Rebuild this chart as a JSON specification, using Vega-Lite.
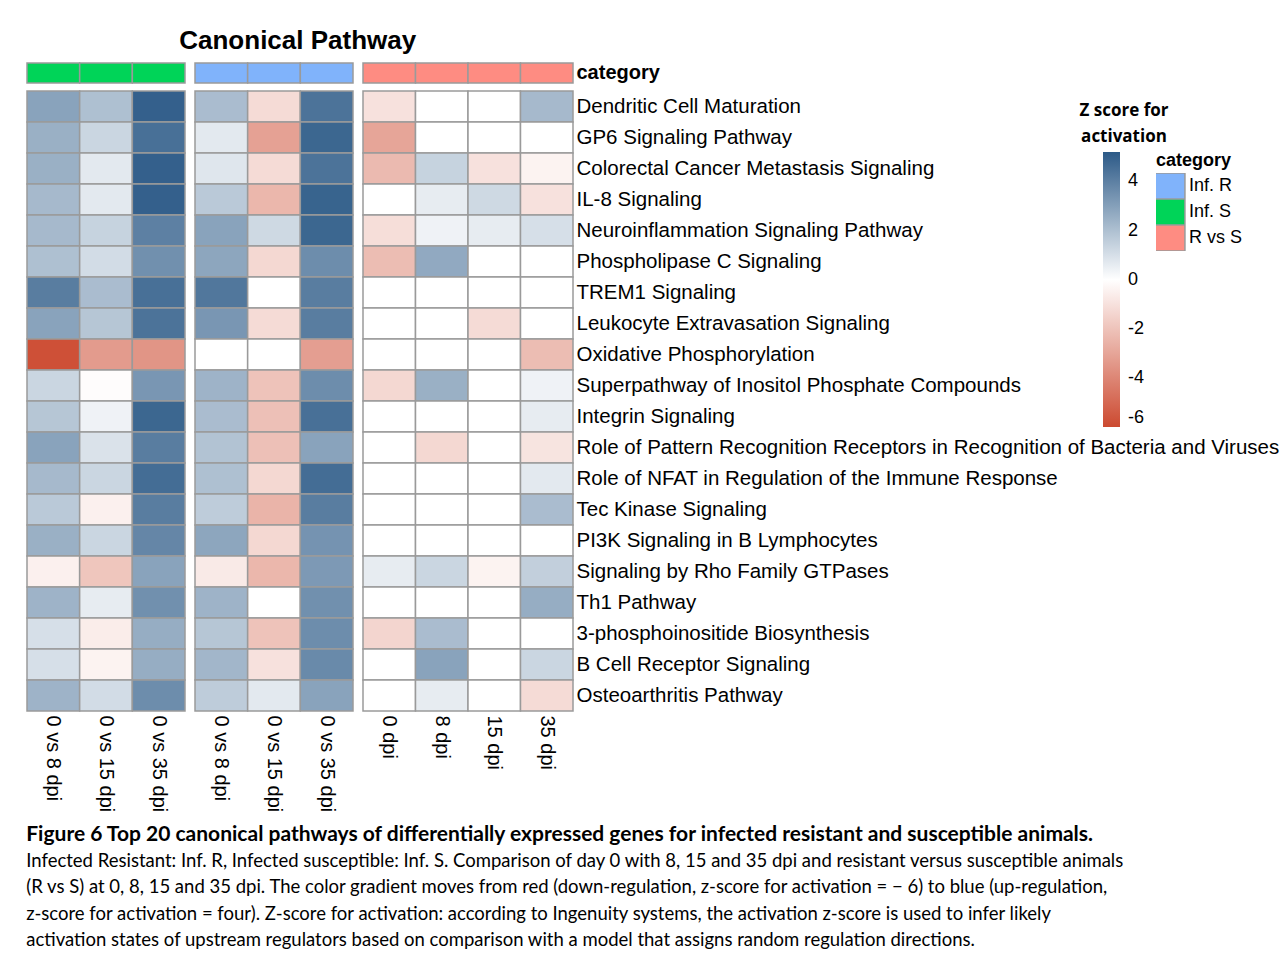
{
"$schema":"https://vega.github.io/schema/vega-lite/v6.json",
"background":"white",
"padding":{"left":26,"top":28,"right":2,"bottom":2},
"datasets":{
"cat":[
{"g":"S","c":"0 vs 8 dpi","k":"category","cat":"Inf. S"},{"g":"S","c":"0 vs 15 dpi","k":"category","cat":"Inf. S"},{"g":"S","c":"0 vs 35 dpi","k":"category","cat":"Inf. S"},
{"g":"R","c":"0 vs 8 dpi","k":"category","cat":"Inf. R"},{"g":"R","c":"0 vs 15 dpi","k":"category","cat":"Inf. R"},{"g":"R","c":"0 vs 35 dpi","k":"category","cat":"Inf. R"},
{"g":"V","c":"0 dpi","k":"category","cat":"R vs S"},{"g":"V","c":"8 dpi","k":"category","cat":"R vs S"},{"g":"V","c":"15 dpi","k":"category","cat":"R vs S"},{"g":"V","c":"35 dpi","k":"category","cat":"R vs S"}
],
"heat":[
{"p":"Dendritic Cell Maturation","g":"S","c":"0 vs 8 dpi","z":2.9},{"p":"Dendritic Cell Maturation","g":"S","c":"0 vs 15 dpi","z":2.0},{"p":"Dendritic Cell Maturation","g":"S","c":"0 vs 35 dpi","z":5.0},{"p":"Dendritic Cell Maturation","g":"R","c":"0 vs 8 dpi","z":2.1},{"p":"Dendritic Cell Maturation","g":"R","c":"0 vs 15 dpi","z":-1.2},{"p":"Dendritic Cell Maturation","g":"R","c":"0 vs 35 dpi","z":4.4},{"p":"Dendritic Cell Maturation","g":"V","c":"0 dpi","z":-1.0},{"p":"Dendritic Cell Maturation","g":"V","c":"8 dpi","z":0},{"p":"Dendritic Cell Maturation","g":"V","c":"15 dpi","z":0},{"p":"Dendritic Cell Maturation","g":"V","c":"35 dpi","z":2.2},
{"p":"GP6 Signaling Pathway","g":"S","c":"0 vs 8 dpi","z":2.5},{"p":"GP6 Signaling Pathway","g":"S","c":"0 vs 15 dpi","z":1.3},{"p":"GP6 Signaling Pathway","g":"S","c":"0 vs 35 dpi","z":4.5},{"p":"GP6 Signaling Pathway","g":"R","c":"0 vs 8 dpi","z":0.7},{"p":"GP6 Signaling Pathway","g":"R","c":"0 vs 15 dpi","z":-3.1},{"p":"GP6 Signaling Pathway","g":"R","c":"0 vs 35 dpi","z":4.8},{"p":"GP6 Signaling Pathway","g":"V","c":"0 dpi","z":-3.0},{"p":"GP6 Signaling Pathway","g":"V","c":"8 dpi","z":0},{"p":"GP6 Signaling Pathway","g":"V","c":"15 dpi","z":0},{"p":"GP6 Signaling Pathway","g":"V","c":"35 dpi","z":0},
{"p":"Colorectal Cancer Metastasis Signaling","g":"S","c":"0 vs 8 dpi","z":2.5},{"p":"Colorectal Cancer Metastasis Signaling","g":"S","c":"0 vs 15 dpi","z":0.7},{"p":"Colorectal Cancer Metastasis Signaling","g":"S","c":"0 vs 35 dpi","z":5.0},{"p":"Colorectal Cancer Metastasis Signaling","g":"R","c":"0 vs 8 dpi","z":0.8},{"p":"Colorectal Cancer Metastasis Signaling","g":"R","c":"0 vs 15 dpi","z":-1.2},{"p":"Colorectal Cancer Metastasis Signaling","g":"R","c":"0 vs 35 dpi","z":4.4},{"p":"Colorectal Cancer Metastasis Signaling","g":"V","c":"0 dpi","z":-2.3},{"p":"Colorectal Cancer Metastasis Signaling","g":"V","c":"8 dpi","z":1.4},{"p":"Colorectal Cancer Metastasis Signaling","g":"V","c":"15 dpi","z":-1.0},{"p":"Colorectal Cancer Metastasis Signaling","g":"V","c":"35 dpi","z":-0.4},
{"p":"IL-8 Signaling","g":"S","c":"0 vs 8 dpi","z":2.2},{"p":"IL-8 Signaling","g":"S","c":"0 vs 15 dpi","z":0.7},{"p":"IL-8 Signaling","g":"S","c":"0 vs 35 dpi","z":5.0},{"p":"IL-8 Signaling","g":"R","c":"0 vs 8 dpi","z":1.7},{"p":"IL-8 Signaling","g":"R","c":"0 vs 15 dpi","z":-2.4},{"p":"IL-8 Signaling","g":"R","c":"0 vs 35 dpi","z":4.9},{"p":"IL-8 Signaling","g":"V","c":"0 dpi","z":0},{"p":"IL-8 Signaling","g":"V","c":"8 dpi","z":0.6},{"p":"IL-8 Signaling","g":"V","c":"15 dpi","z":1.2},{"p":"IL-8 Signaling","g":"V","c":"35 dpi","z":-1.0},
{"p":"Neuroinflammation Signaling Pathway","g":"S","c":"0 vs 8 dpi","z":2.2},{"p":"Neuroinflammation Signaling Pathway","g":"S","c":"0 vs 15 dpi","z":1.4},{"p":"Neuroinflammation Signaling Pathway","g":"S","c":"0 vs 35 dpi","z":4.0},{"p":"Neuroinflammation Signaling Pathway","g":"R","c":"0 vs 8 dpi","z":2.9},{"p":"Neuroinflammation Signaling Pathway","g":"R","c":"0 vs 15 dpi","z":1.2},{"p":"Neuroinflammation Signaling Pathway","g":"R","c":"0 vs 35 dpi","z":4.8},{"p":"Neuroinflammation Signaling Pathway","g":"V","c":"0 dpi","z":-1.1},{"p":"Neuroinflammation Signaling Pathway","g":"V","c":"8 dpi","z":0.4},{"p":"Neuroinflammation Signaling Pathway","g":"V","c":"15 dpi","z":0.6},{"p":"Neuroinflammation Signaling Pathway","g":"V","c":"35 dpi","z":1.0},
{"p":"Phospholipase C Signaling","g":"S","c":"0 vs 8 dpi","z":2.0},{"p":"Phospholipase C Signaling","g":"S","c":"0 vs 15 dpi","z":1.1},{"p":"Phospholipase C Signaling","g":"S","c":"0 vs 35 dpi","z":3.5},{"p":"Phospholipase C Signaling","g":"R","c":"0 vs 8 dpi","z":2.8},{"p":"Phospholipase C Signaling","g":"R","c":"0 vs 15 dpi","z":-1.3},{"p":"Phospholipase C Signaling","g":"R","c":"0 vs 35 dpi","z":3.6},{"p":"Phospholipase C Signaling","g":"V","c":"0 dpi","z":-2.2},{"p":"Phospholipase C Signaling","g":"V","c":"8 dpi","z":2.7},{"p":"Phospholipase C Signaling","g":"V","c":"15 dpi","z":0},{"p":"Phospholipase C Signaling","g":"V","c":"35 dpi","z":0},
{"p":"TREM1 Signaling","g":"S","c":"0 vs 8 dpi","z":4.1},{"p":"TREM1 Signaling","g":"S","c":"0 vs 15 dpi","z":2.1},{"p":"TREM1 Signaling","g":"S","c":"0 vs 35 dpi","z":4.5},{"p":"TREM1 Signaling","g":"R","c":"0 vs 8 dpi","z":4.3},{"p":"TREM1 Signaling","g":"R","c":"0 vs 15 dpi","z":0},{"p":"TREM1 Signaling","g":"R","c":"0 vs 35 dpi","z":4.1},{"p":"TREM1 Signaling","g":"V","c":"0 dpi","z":0},{"p":"TREM1 Signaling","g":"V","c":"8 dpi","z":0},{"p":"TREM1 Signaling","g":"V","c":"15 dpi","z":0},{"p":"TREM1 Signaling","g":"V","c":"35 dpi","z":0},
{"p":"Leukocyte Extravasation Signaling","g":"S","c":"0 vs 8 dpi","z":2.9},{"p":"Leukocyte Extravasation Signaling","g":"S","c":"0 vs 15 dpi","z":1.8},{"p":"Leukocyte Extravasation Signaling","g":"S","c":"0 vs 35 dpi","z":4.4},{"p":"Leukocyte Extravasation Signaling","g":"R","c":"0 vs 8 dpi","z":3.3},{"p":"Leukocyte Extravasation Signaling","g":"R","c":"0 vs 15 dpi","z":-1.2},{"p":"Leukocyte Extravasation Signaling","g":"R","c":"0 vs 35 dpi","z":4.1},{"p":"Leukocyte Extravasation Signaling","g":"V","c":"0 dpi","z":0},{"p":"Leukocyte Extravasation Signaling","g":"V","c":"8 dpi","z":0},{"p":"Leukocyte Extravasation Signaling","g":"V","c":"15 dpi","z":-1.2},{"p":"Leukocyte Extravasation Signaling","g":"V","c":"35 dpi","z":0},
{"p":"Oxidative Phosphorylation","g":"S","c":"0 vs 8 dpi","z":-5.8},{"p":"Oxidative Phosphorylation","g":"S","c":"0 vs 15 dpi","z":-3.3},{"p":"Oxidative Phosphorylation","g":"S","c":"0 vs 35 dpi","z":-3.5},{"p":"Oxidative Phosphorylation","g":"R","c":"0 vs 8 dpi","z":0},{"p":"Oxidative Phosphorylation","g":"R","c":"0 vs 15 dpi","z":0},{"p":"Oxidative Phosphorylation","g":"R","c":"0 vs 35 dpi","z":-3.2},{"p":"Oxidative Phosphorylation","g":"V","c":"0 dpi","z":0},{"p":"Oxidative Phosphorylation","g":"V","c":"8 dpi","z":0},{"p":"Oxidative Phosphorylation","g":"V","c":"15 dpi","z":0},{"p":"Oxidative Phosphorylation","g":"V","c":"35 dpi","z":-2.2},
{"p":"Superpathway of Inositol Phosphate Compounds","g":"S","c":"0 vs 8 dpi","z":1.3},{"p":"Superpathway of Inositol Phosphate Compounds","g":"S","c":"0 vs 15 dpi","z":-0.1},{"p":"Superpathway of Inositol Phosphate Compounds","g":"S","c":"0 vs 35 dpi","z":3.3},{"p":"Superpathway of Inositol Phosphate Compounds","g":"R","c":"0 vs 8 dpi","z":2.4},{"p":"Superpathway of Inositol Phosphate Compounds","g":"R","c":"0 vs 15 dpi","z":-2.0},{"p":"Superpathway of Inositol Phosphate Compounds","g":"R","c":"0 vs 35 dpi","z":3.6},{"p":"Superpathway of Inositol Phosphate Compounds","g":"V","c":"0 dpi","z":-1.3},{"p":"Superpathway of Inositol Phosphate Compounds","g":"V","c":"8 dpi","z":2.5},{"p":"Superpathway of Inositol Phosphate Compounds","g":"V","c":"15 dpi","z":0},{"p":"Superpathway of Inositol Phosphate Compounds","g":"V","c":"35 dpi","z":0.4},
{"p":"Integrin Signaling","g":"S","c":"0 vs 8 dpi","z":1.8},{"p":"Integrin Signaling","g":"S","c":"0 vs 15 dpi","z":0.4},{"p":"Integrin Signaling","g":"S","c":"0 vs 35 dpi","z":4.8},{"p":"Integrin Signaling","g":"R","c":"0 vs 8 dpi","z":2.1},{"p":"Integrin Signaling","g":"R","c":"0 vs 15 dpi","z":-2.1},{"p":"Integrin Signaling","g":"R","c":"0 vs 35 dpi","z":4.5},{"p":"Integrin Signaling","g":"V","c":"0 dpi","z":0},{"p":"Integrin Signaling","g":"V","c":"8 dpi","z":0},{"p":"Integrin Signaling","g":"V","c":"15 dpi","z":0},{"p":"Integrin Signaling","g":"V","c":"35 dpi","z":0.6},
{"p":"Role of Pattern Recognition Receptors in Recognition of Bacteria and Viruses","g":"S","c":"0 vs 8 dpi","z":2.9},{"p":"Role of Pattern Recognition Receptors in Recognition of Bacteria and Viruses","g":"S","c":"0 vs 15 dpi","z":0.9},{"p":"Role of Pattern Recognition Receptors in Recognition of Bacteria and Viruses","g":"S","c":"0 vs 35 dpi","z":4.1},{"p":"Role of Pattern Recognition Receptors in Recognition of Bacteria and Viruses","g":"R","c":"0 vs 8 dpi","z":1.9},{"p":"Role of Pattern Recognition Receptors in Recognition of Bacteria and Viruses","g":"R","c":"0 vs 15 dpi","z":-2.1},{"p":"Role of Pattern Recognition Receptors in Recognition of Bacteria and Viruses","g":"R","c":"0 vs 35 dpi","z":2.9},{"p":"Role of Pattern Recognition Receptors in Recognition of Bacteria and Viruses","g":"V","c":"0 dpi","z":0},{"p":"Role of Pattern Recognition Receptors in Recognition of Bacteria and Viruses","g":"V","c":"8 dpi","z":-1.3},{"p":"Role of Pattern Recognition Receptors in Recognition of Bacteria and Viruses","g":"V","c":"15 dpi","z":0},{"p":"Role of Pattern Recognition Receptors in Recognition of Bacteria and Viruses","g":"V","c":"35 dpi","z":-0.9},
{"p":"Role of NFAT in Regulation of the Immune Response","g":"S","c":"0 vs 8 dpi","z":2.2},{"p":"Role of NFAT in Regulation of the Immune Response","g":"S","c":"0 vs 15 dpi","z":1.3},{"p":"Role of NFAT in Regulation of the Immune Response","g":"S","c":"0 vs 35 dpi","z":4.6},{"p":"Role of NFAT in Regulation of the Immune Response","g":"R","c":"0 vs 8 dpi","z":2.0},{"p":"Role of NFAT in Regulation of the Immune Response","g":"R","c":"0 vs 15 dpi","z":-1.3},{"p":"Role of NFAT in Regulation of the Immune Response","g":"R","c":"0 vs 35 dpi","z":4.6},{"p":"Role of NFAT in Regulation of the Immune Response","g":"V","c":"0 dpi","z":0},{"p":"Role of NFAT in Regulation of the Immune Response","g":"V","c":"8 dpi","z":0},{"p":"Role of NFAT in Regulation of the Immune Response","g":"V","c":"15 dpi","z":0},{"p":"Role of NFAT in Regulation of the Immune Response","g":"V","c":"35 dpi","z":0.7},
{"p":"Tec Kinase Signaling","g":"S","c":"0 vs 8 dpi","z":1.7},{"p":"Tec Kinase Signaling","g":"S","c":"0 vs 15 dpi","z":-0.5},{"p":"Tec Kinase Signaling","g":"S","c":"0 vs 35 dpi","z":4.1},{"p":"Tec Kinase Signaling","g":"R","c":"0 vs 8 dpi","z":1.6},{"p":"Tec Kinase Signaling","g":"R","c":"0 vs 15 dpi","z":-2.5},{"p":"Tec Kinase Signaling","g":"R","c":"0 vs 35 dpi","z":4.1},{"p":"Tec Kinase Signaling","g":"V","c":"0 dpi","z":0},{"p":"Tec Kinase Signaling","g":"V","c":"8 dpi","z":0},{"p":"Tec Kinase Signaling","g":"V","c":"15 dpi","z":0},{"p":"Tec Kinase Signaling","g":"V","c":"35 dpi","z":2.1},
{"p":"PI3K Signaling in B Lymphocytes","g":"S","c":"0 vs 8 dpi","z":2.5},{"p":"PI3K Signaling in B Lymphocytes","g":"S","c":"0 vs 15 dpi","z":1.3},{"p":"PI3K Signaling in B Lymphocytes","g":"S","c":"0 vs 35 dpi","z":3.8},{"p":"PI3K Signaling in B Lymphocytes","g":"R","c":"0 vs 8 dpi","z":2.8},{"p":"PI3K Signaling in B Lymphocytes","g":"R","c":"0 vs 15 dpi","z":-1.3},{"p":"PI3K Signaling in B Lymphocytes","g":"R","c":"0 vs 35 dpi","z":3.4},{"p":"PI3K Signaling in B Lymphocytes","g":"V","c":"0 dpi","z":0},{"p":"PI3K Signaling in B Lymphocytes","g":"V","c":"8 dpi","z":0},{"p":"PI3K Signaling in B Lymphocytes","g":"V","c":"15 dpi","z":0},{"p":"PI3K Signaling in B Lymphocytes","g":"V","c":"35 dpi","z":0},
{"p":"Signaling by Rho Family GTPases","g":"S","c":"0 vs 8 dpi","z":-0.5},{"p":"Signaling by Rho Family GTPases","g":"S","c":"0 vs 15 dpi","z":-1.9},{"p":"Signaling by Rho Family GTPases","g":"S","c":"0 vs 35 dpi","z":2.9},{"p":"Signaling by Rho Family GTPases","g":"R","c":"0 vs 8 dpi","z":-0.7},{"p":"Signaling by Rho Family GTPases","g":"R","c":"0 vs 15 dpi","z":-2.4},{"p":"Signaling by Rho Family GTPases","g":"R","c":"0 vs 35 dpi","z":3.2},{"p":"Signaling by Rho Family GTPases","g":"V","c":"0 dpi","z":0.6},{"p":"Signaling by Rho Family GTPases","g":"V","c":"8 dpi","z":1.3},{"p":"Signaling by Rho Family GTPases","g":"V","c":"15 dpi","z":-0.4},{"p":"Signaling by Rho Family GTPases","g":"V","c":"35 dpi","z":1.5},
{"p":"Th1 Pathway","g":"S","c":"0 vs 8 dpi","z":2.4},{"p":"Th1 Pathway","g":"S","c":"0 vs 15 dpi","z":0.6},{"p":"Th1 Pathway","g":"S","c":"0 vs 35 dpi","z":3.5},{"p":"Th1 Pathway","g":"R","c":"0 vs 8 dpi","z":2.4},{"p":"Th1 Pathway","g":"R","c":"0 vs 15 dpi","z":0},{"p":"Th1 Pathway","g":"R","c":"0 vs 35 dpi","z":3.5},{"p":"Th1 Pathway","g":"V","c":"0 dpi","z":0},{"p":"Th1 Pathway","g":"V","c":"8 dpi","z":0},{"p":"Th1 Pathway","g":"V","c":"15 dpi","z":0},{"p":"Th1 Pathway","g":"V","c":"35 dpi","z":2.6},
{"p":"3-phosphoinositide Biosynthesis","g":"S","c":"0 vs 8 dpi","z":1.0},{"p":"3-phosphoinositide Biosynthesis","g":"S","c":"0 vs 15 dpi","z":-0.6},{"p":"3-phosphoinositide Biosynthesis","g":"S","c":"0 vs 35 dpi","z":2.6},{"p":"3-phosphoinositide Biosynthesis","g":"R","c":"0 vs 8 dpi","z":1.8},{"p":"3-phosphoinositide Biosynthesis","g":"R","c":"0 vs 15 dpi","z":-2.0},{"p":"3-phosphoinositide Biosynthesis","g":"R","c":"0 vs 35 dpi","z":3.6},{"p":"3-phosphoinositide Biosynthesis","g":"V","c":"0 dpi","z":-1.4},{"p":"3-phosphoinositide Biosynthesis","g":"V","c":"8 dpi","z":2.1},{"p":"3-phosphoinositide Biosynthesis","g":"V","c":"15 dpi","z":0},{"p":"3-phosphoinositide Biosynthesis","g":"V","c":"35 dpi","z":0},
{"p":"B Cell Receptor Signaling","g":"S","c":"0 vs 8 dpi","z":1.0},{"p":"B Cell Receptor Signaling","g":"S","c":"0 vs 15 dpi","z":-0.4},{"p":"B Cell Receptor Signaling","g":"S","c":"0 vs 35 dpi","z":2.6},{"p":"B Cell Receptor Signaling","g":"R","c":"0 vs 8 dpi","z":2.3},{"p":"B Cell Receptor Signaling","g":"R","c":"0 vs 15 dpi","z":-1.0},{"p":"B Cell Receptor Signaling","g":"R","c":"0 vs 35 dpi","z":3.7},{"p":"B Cell Receptor Signaling","g":"V","c":"0 dpi","z":0},{"p":"B Cell Receptor Signaling","g":"V","c":"8 dpi","z":2.9},{"p":"B Cell Receptor Signaling","g":"V","c":"15 dpi","z":0},{"p":"B Cell Receptor Signaling","g":"V","c":"35 dpi","z":1.3},
{"p":"Osteoarthritis Pathway","g":"S","c":"0 vs 8 dpi","z":2.4},{"p":"Osteoarthritis Pathway","g":"S","c":"0 vs 15 dpi","z":1.1},{"p":"Osteoarthritis Pathway","g":"S","c":"0 vs 35 dpi","z":3.6},{"p":"Osteoarthritis Pathway","g":"R","c":"0 vs 8 dpi","z":1.6},{"p":"Osteoarthritis Pathway","g":"R","c":"0 vs 15 dpi","z":0.7},{"p":"Osteoarthritis Pathway","g":"R","c":"0 vs 35 dpi","z":2.9},{"p":"Osteoarthritis Pathway","g":"V","c":"0 dpi","z":0},{"p":"Osteoarthritis Pathway","g":"V","c":"8 dpi","z":0.6},{"p":"Osteoarthritis Pathway","g":"V","c":"15 dpi","z":0},{"p":"Osteoarthritis Pathway","g":"V","c":"35 dpi","z":-1.2}
]},
"title":{"text":"Figure 6  Top 20 canonical pathways of differentially expressed genes for infected resistant and susceptible animals.","subtitle":["Infected Resistant: Inf. R, Infected susceptible: Inf. S. Comparison of day 0 with 8, 15 and 35 dpi and resistant versus susceptible animals","(R vs S) at 0, 8, 15 and 35 dpi. The color gradient moves from red (down-regulation, z-score for activation = − 6) to blue (up-regulation,","z-score for activation = four). Z-score for activation: according to Ingenuity systems, the activation z-score is used to infer likely","activation states of upstream regulators based on comparison with a model that assigns random regulation directions."],"orient":"bottom","anchor":"start","offset":12,"font":"Lato","fontSize":21,"fontWeight":"bold","color":"#000","subtitleFont":"Lato","subtitleFontSize":18.5,"subtitleColor":"#000","subtitleLineHeight":26.5,"subtitlePadding":7},
"config":{"view":{"stroke":null},"font":"Liberation Sans","axis":{"labelFont":"Liberation Sans","labelColor":"#000","ticks":false,"domain":false,"grid":false,"title":null}},
"vconcat":[{
"title":{"text":"Canonical Pathway","anchor":"start","dx":153,"offset":8,"font":"Liberation Sans","fontSize":26,"fontWeight":"bold","color":"#000"},
"spacing":8,
"hconcat":[
{"spacing":8,"bounds":"flush","vconcat":[
{"data":{"name":"cat"},"transform":[{"filter":"datum.g==='S'"}],"width":158,"height":20,"mark":{"type":"rect","stroke":"#9a9a9a","strokeWidth":1.5},
"encoding":{"x":{"field":"c","type":"nominal","sort":null,"axis":null,"scale":{"paddingInner":0,"paddingOuter":0}},"y":{"field":"k","type":"nominal","axis":null},
"fill":{"field":"cat","type":"nominal","scale":{"domain":["Inf. R","Inf. S","R vs S"],"range":["#80b3fb","#00d458","#fe8c82"]},"legend":{"title":"category","orient":"none","legendX":1129,"legendY":89,"symbolType":"M-1.15,-1H1.15V1H-1.15Z","symbolSize":676,"symbolStrokeColor":"#9a9a9a","symbolStrokeWidth":1.5,"symbolOpacity":1,"rowPadding":0,"clipHeight":26,"labelOffset":5,"labelFont":"Liberation Sans","labelFontSize":18,"labelColor":"#000","titleFont":"Liberation Sans","titleFontSize":18,"titleFontWeight":"bold","titleColor":"#000","titlePadding":3}}}},
{"data":{"name":"heat"},"transform":[{"filter":"datum.g==='S'"}],"width":158,"height":620,"mark":{"type":"rect","stroke":"#9a9a9a","strokeWidth":1.5},
"encoding":{"x":{"field":"c","type":"nominal","sort":null,"scale":{"paddingInner":0,"paddingOuter":0},"axis":{"labelAngle":90,"labelFontSize":20,"labelPadding":4}},"y":{"field":"p","type":"nominal","sort":null,"axis":null,"scale":{"paddingInner":0,"paddingOuter":0}},
"color":{"field":"z","type":"quantitative","scale":{"type":"linear","domain":[-6,0,5.2],"range":["#cc4a30","#ffffff","#2c5a87"],"interpolate":"rgb"},"legend":{"title":["Z score for","activation"],"orient":"none","legendX":1053,"legendY":40,"gradientLength":275,"gradientThickness":17,"values":[-6,-4,-2,0,2,4],"labelExpr":"'' + datum.value","titleFont":"Open Sans","titleFontSize":17,"titleFontWeight":"bold","titleColor":"#000","titleAnchor":"middle","titleAlign":"center","titleLineHeight":26,"titlePadding":6,"labelFont":"Liberation Sans","labelFontSize":18,"labelColor":"#000","labelOffset":8,"gradientStrokeWidth":0}}}}
]},
{"spacing":8,"bounds":"flush","vconcat":[
{"data":{"name":"cat"},"transform":[{"filter":"datum.g==='R'"}],"width":158,"height":20,"mark":{"type":"rect","stroke":"#9a9a9a","strokeWidth":1.5},
"encoding":{"x":{"field":"c","type":"nominal","sort":null,"axis":null,"scale":{"paddingInner":0,"paddingOuter":0}},"y":{"field":"k","type":"nominal","axis":null},
"fill":{"field":"cat","type":"nominal","scale":{"domain":["Inf. R","Inf. S","R vs S"],"range":["#80b3fb","#00d458","#fe8c82"]},"legend":{"title":"category","orient":"none","legendX":1129,"legendY":89,"symbolType":"M-1.15,-1H1.15V1H-1.15Z","symbolSize":676,"symbolStrokeColor":"#9a9a9a","symbolStrokeWidth":1.5,"symbolOpacity":1,"rowPadding":0,"clipHeight":26,"labelOffset":5,"labelFont":"Liberation Sans","labelFontSize":18,"labelColor":"#000","titleFont":"Liberation Sans","titleFontSize":18,"titleFontWeight":"bold","titleColor":"#000","titlePadding":3}}}},
{"data":{"name":"heat"},"transform":[{"filter":"datum.g==='R'"}],"width":158,"height":620,"mark":{"type":"rect","stroke":"#9a9a9a","strokeWidth":1.5},
"encoding":{"x":{"field":"c","type":"nominal","sort":null,"scale":{"paddingInner":0,"paddingOuter":0},"axis":{"labelAngle":90,"labelFontSize":20,"labelPadding":4}},"y":{"field":"p","type":"nominal","sort":null,"axis":null,"scale":{"paddingInner":0,"paddingOuter":0}},
"color":{"field":"z","type":"quantitative","scale":{"type":"linear","domain":[-6,0,5.2],"range":["#cc4a30","#ffffff","#2c5a87"],"interpolate":"rgb"},"legend":{"title":["Z score for","activation"],"orient":"none","legendX":1053,"legendY":40,"gradientLength":275,"gradientThickness":17,"values":[-6,-4,-2,0,2,4],"labelExpr":"'' + datum.value","titleFont":"Open Sans","titleFontSize":17,"titleFontWeight":"bold","titleColor":"#000","titleAnchor":"middle","titleAlign":"center","titleLineHeight":26,"titlePadding":6,"labelFont":"Liberation Sans","labelFontSize":18,"labelColor":"#000","labelOffset":8,"gradientStrokeWidth":0}}}}
]},
{"spacing":8,"bounds":"flush","vconcat":[
{"data":{"name":"cat"},"transform":[{"filter":"datum.g==='V'"}],"width":210,"height":20,"mark":{"type":"rect","stroke":"#9a9a9a","strokeWidth":1.5},
"encoding":{"x":{"field":"c","type":"nominal","sort":null,"axis":null,"scale":{"paddingInner":0,"paddingOuter":0}},"y":{"field":"k","type":"nominal","axis":{"orient":"right","labelFontSize":20,"labelFontWeight":"bold","labelPadding":3}},
"fill":{"field":"cat","type":"nominal","scale":{"domain":["Inf. R","Inf. S","R vs S"],"range":["#80b3fb","#00d458","#fe8c82"]},"legend":{"title":"category","orient":"none","legendX":1129,"legendY":89,"symbolType":"M-1.15,-1H1.15V1H-1.15Z","symbolSize":676,"symbolStrokeColor":"#9a9a9a","symbolStrokeWidth":1.5,"symbolOpacity":1,"rowPadding":0,"clipHeight":26,"labelOffset":5,"labelFont":"Liberation Sans","labelFontSize":18,"labelColor":"#000","titleFont":"Liberation Sans","titleFontSize":18,"titleFontWeight":"bold","titleColor":"#000","titlePadding":3}}}},
{"data":{"name":"heat"},"transform":[{"filter":"datum.g==='V'"}],"width":210,"height":620,"mark":{"type":"rect","stroke":"#9a9a9a","strokeWidth":1.5},
"encoding":{"x":{"field":"c","type":"nominal","sort":null,"scale":{"paddingInner":0,"paddingOuter":0},"axis":{"labelAngle":90,"labelFontSize":20,"labelPadding":4}},"y":{"field":"p","type":"nominal","sort":null,"scale":{"paddingInner":0,"paddingOuter":0},"axis":{"orient":"right","labelFontSize":20.5,"labelPadding":3,"labelLimit":900}},
"color":{"field":"z","type":"quantitative","scale":{"type":"linear","domain":[-6,0,5.2],"range":["#cc4a30","#ffffff","#2c5a87"],"interpolate":"rgb"},"legend":{"title":["Z score for","activation"],"orient":"none","legendX":1053,"legendY":40,"gradientLength":275,"gradientThickness":17,"values":[-6,-4,-2,0,2,4],"labelExpr":"'' + datum.value","titleFont":"Open Sans","titleFontSize":17,"titleFontWeight":"bold","titleColor":"#000","titleAnchor":"middle","titleAlign":"center","titleLineHeight":26,"titlePadding":6,"labelFont":"Liberation Sans","labelFontSize":18,"labelColor":"#000","labelOffset":8,"gradientStrokeWidth":0}}}}
]}
]}]
}
